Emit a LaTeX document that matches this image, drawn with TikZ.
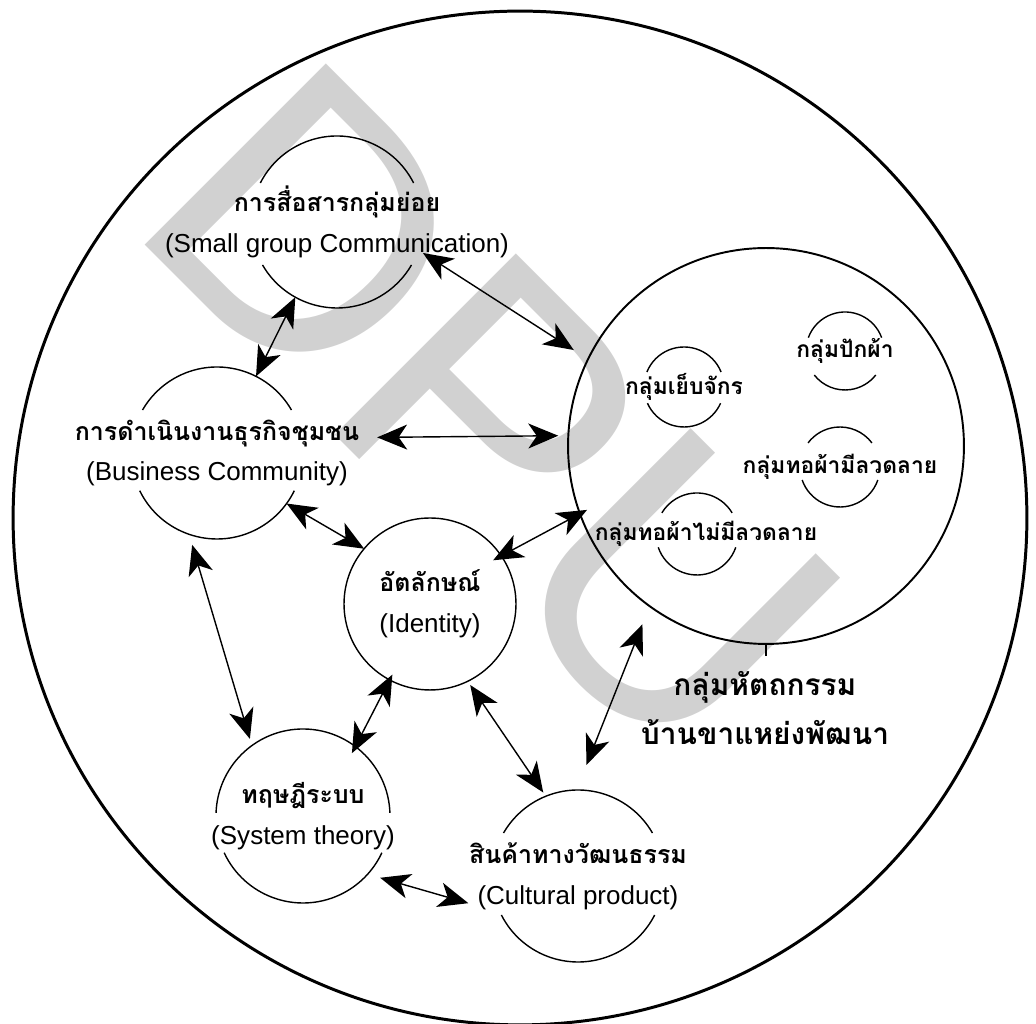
\documentclass[tikz,border=0pt]{standalone}
\usepackage{fontspec}
\setmainfont{Liberation Sans}
\newfontfamily\thaifont[Script=Thai]{Loma}
\newcommand\thai[1]{{\thaifont\bfseries\fontsize{14.2}{23.3}\selectfont #1}}
\usetikzlibrary{arrows.meta}

\tikzset{
  hub/.style={circle, minimum size=#1, inner sep=0pt, outer sep=0pt},
  ring/.style={line width=0.8pt},
  caption/.style={align=center, inner sep=0pt, font=\fontsize{14.8}{23.3}\selectfont},
  tag/.style={inner sep=0pt, font=\thaifont\bfseries\fontsize{13}{13}\selectfont},
  link/.style={line width=0.8pt,
    {Stealth[length=0.6cm,width=0.5cm,inset=0.17cm]}-{Stealth[length=0.6cm,width=0.5cm,inset=0.17cm]}},
}

\begin{document}
\begin{tikzpicture}[x=0.02cm, y=0.02cm]
\useasboundingbox (0,0) rectangle (1036,1024);
% watermark
\node[text=black!18, rotate=-45, inner sep=0pt, font=\fontsize{212}{212}\selectfont] (mark) at (491,612) {DPU};

% circles
\node[hub=20.28cm, draw, line width=1.7pt] (world) at (520,506) {};
\node[hub=7.92cm, draw, line width=1.1pt] (craft) at (766,578) {};
\node[hub=3.44cm, draw, ring] (idn) at (430,420) {};
\node[hub=3.44cm] (sgc) at (337,802) {};
\node[hub=3.44cm] (biz) at (217,571) {};
\node[hub=3.48cm] (sys) at (303,208) {};
\node[hub=3.44cm] (cult) at (578,148) {};
\node[hub=1.6cm] (sew) at (684,637) {};
\node[hub=1.56cm] (emb) at (845,673) {};
\node[hub=1.6cm] (pat) at (840,557) {};
\node[hub=1.64cm] (plain) at (697,490) {};

% broken rings
\draw[ring] (sgc.27) arc[start angle=27, end angle=153, radius=86];
\draw[ring] (sgc.210) arc[start angle=210, end angle=330, radius=86];
\draw[ring] (biz.30) arc[start angle=30, end angle=150, radius=86];
\draw[ring] (biz.206) arc[start angle=206, end angle=334, radius=86];
\draw[ring] (sys.2) arc[start angle=2, end angle=178, radius=87];
\draw[ring] (sys.205) arc[start angle=205, end angle=335, radius=87];
\draw[ring] (cult.30) arc[start angle=30, end angle=150, radius=86];
\draw[ring] (cult.207) arc[start angle=207, end angle=333, radius=86];
\draw[ring] (sew.22) arc[start angle=22, end angle=158, radius=40];
\draw[ring] (sew.204) arc[start angle=204, end angle=336, radius=40];
\draw[ring] (emb.20) arc[start angle=20, end angle=160, radius=39];
\draw[ring] (emb.218) arc[start angle=218, end angle=322, radius=39];
\draw[ring] (pat.37) arc[start angle=37, end angle=143, radius=40];
\draw[ring] (pat.199) arc[start angle=199, end angle=341, radius=40];
\draw[ring] (plain.31) arc[start angle=31, end angle=149, radius=41];
\draw[ring] (plain.199) arc[start angle=199, end angle=341, radius=41];

% labels
\node[caption] (sgc-t) at (sgc) {\thai{การสื่อสารกลุ่มย่อย}\\(Small group Communication)};
\node[caption] (biz-t) at (biz) {\thai{การดำเนินงานธุรกิจชุมชน}\\(Business Community)};
\node[caption] (idn-t) at (idn) {\thai{อัตลักษณ์}\\(Identity)};
\node[caption] (sys-t) at (sys) {\thai{ทฤษฎีระบบ}\\(System theory)};
\node[caption] (cult-t) at (cult) {\thai{สินค้าทางวัฒนธรรม}\\(Cultural product)};
\node[tag] (sew-t) at (sew) {กลุ่มเย็บจักร};
\node[tag] (emb-t) at (emb) {กลุ่มปักผ้า};
\node[tag] (pat-t) at (pat) {กลุ่มทอผ้ามีลวดลาย};
\node[tag, xshift=0.18cm] (plain-t) at (plain) {กลุ่มทอผ้าไม่มีลวดลาย};
\node[caption, font=\thaifont\bfseries\fontsize{17}{27.8}\selectfont] (craft-t) at (765,316) {กลุ่มหัตถกรรม\\บ้านขาแหย่งพัฒนา};
\draw[ring] (craft.south) -- ++(0,-12);

% links
\draw[link] (sgc.241) -- (biz.63);
\draw[link, shorten <=0.11cm, shorten >=0.34cm] (sgc.-19) -- (craft.154.7);
\draw[link, shorten <=1.51cm, shorten >=0.2cm] (biz.10.7) -- (craft.177.4);
\draw[link] (biz.-36) -- (idn.140);
\draw[link, shorten <=-0.185cm, shorten >=-0.16cm] (idn.34) -- (craft.200);
\draw[link, shorten <=0.22cm, shorten >=0.14cm] (biz.251) -- (sys.126);
\draw[link, shorten <=-0.12cm, shorten >=-0.15cm] (idn.242.5) -- (sys.53);
\draw[link, shorten <=0.09cm, shorten >=0.09cm] (idn.296) -- (cult.112);
\draw[link, shorten <=0.39cm, shorten >=0.54cm] (craft.234) -- (cult.91);
\draw[link, shorten <=0.26cm, shorten >=0.66cm] (sys.-42) -- (cult.205);
\end{tikzpicture}
\end{document}
